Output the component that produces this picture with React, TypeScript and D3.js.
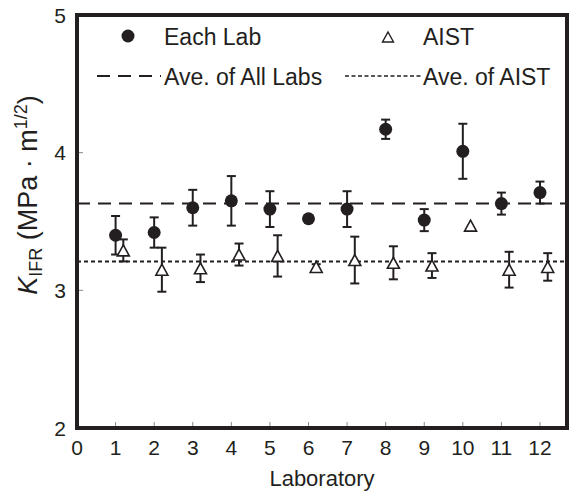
import React from 'react';
import * as d3 from 'd3';

// lab number, measured K_IFR for each lab and for the AIST reference runs
const labs = [1, 2, 3, 4, 5, 6, 7, 8, 9, 10, 11, 12];
const labMean = [3.40, 3.42, 3.60, 3.65, 3.59, 3.52, 3.59, 4.17, 3.51, 4.01, 3.63, 3.71];
const labErr = [0.14, 0.11, 0.13, 0.18, 0.13, 0, 0.13, 0.07, 0.08, 0.20, 0.08, 0.08];
const aistMean = [3.29, 3.15, 3.16, 3.26, 3.25, 3.17, 3.22, 3.20, 3.18, 3.47, 3.15, 3.17];
const aistErr = [0.08, 0.16, 0.10, 0.08, 0.15, 0.02, 0.17, 0.12, 0.09, 0, 0.13, 0.10];
const aveAllLabs = 3.63;
const aveAist = 3.21;
const xTicks = [0, 1, 2, 3, 4, 5, 6, 7, 8, 9, 10, 11, 12];
const yTicks = [2, 3, 4, 5];

const W = 571;
const H = 493;
const INK = '#231f20';
const FONT = '"Liberation Sans", Arial, Helvetica, sans-serif';

const App = () => {
  const x = d3.scaleLinear().domain([0, 12.7]).range([77, 567]);
  const y = d3.scaleLinear().domain([2, 5]).range([428, 15]);
  const aistShift = 0.2;

  const tri = (cx: number, cy: number, w = 12, h = 11) =>
    `M${cx},${cy - h / 2}L${cx + w / 2},${cy + h / 2}L${cx - w / 2},${cy + h / 2}Z`;

  const errBar = (cx: number, m: number, e: number, key: string) => {
    if (!e) return null;
    const cap = 4.5;
    return (
      <g key={key} stroke={INK} strokeWidth={2}>
        <line x1={cx} x2={cx} y1={y(m + e)} y2={y(m - e)} />
        <line x1={cx - cap} x2={cx + cap} y1={y(m + e)} y2={y(m + e)} />
        <line x1={cx - cap} x2={cx + cap} y1={y(m - e)} y2={y(m - e)} />
      </g>
    );
  };

  return (
    <svg width={W} height={H} style={{ position: 'absolute', left: 0, top: 0 }} fontFamily={FONT}>
      <rect width={W} height={H} fill="#fff" />

      {/* inner ticks */}
      <g stroke="#888" strokeWidth={1}>
        {xTicks.slice(1).map(t => (
          <line key={'xt' + t} x1={x(t)} x2={x(t)} y1={y(2)} y2={y(2) - 6} />
        ))}
        {yTicks.slice(1, -1).map(t => (
          <line key={'yt' + t} x1={x(0)} x2={x(0) + 6} y1={y(t)} y2={y(t)} />
        ))}
      </g>

      {/* tick labels */}
      <g fill={INK} fontSize={21}>
        {xTicks.map(t => (
          <text key={'xl' + t} x={x(t)} y={455} textAnchor="middle">{t}</text>
        ))}
        {yTicks.map(t => (
          <text key={'yl' + t} x={66} y={y(t)} dy="0.36em" textAnchor="end">{t}</text>
        ))}
      </g>

      {/* average lines */}
      <line x1={x(0)} x2={x(12.7)} y1={y(aveAllLabs)} y2={y(aveAllLabs)}
        stroke={INK} strokeWidth={2} strokeDasharray="13,8" />
      <line x1={x(0)} x2={x(12.7)} y1={y(aveAist)} y2={y(aveAist)}
        stroke={INK} strokeWidth={2} strokeDasharray="4,3" />

      {/* error bars */}
      {labs.map((l, i) => errBar(x(l), labMean[i], labErr[i], 'le' + l))}
      {labs.map((l, i) => errBar(x(l + aistShift), aistMean[i], aistErr[i], 'ae' + l))}

      {/* markers */}
      {labs.map((l, i) => (
        <circle key={'c' + l} cx={x(l)} cy={y(labMean[i])} r={6.5} fill={INK} />
      ))}
      {labs.map((l, i) => (
        <path key={'t' + l} d={tri(x(l + aistShift), y(aistMean[i]))}
          fill="#fff" stroke={INK} strokeWidth={1.6} />
      ))}

      {/* legend */}
      <g fill={INK} fontSize={23}>
        <circle cx={128} cy={36} r={6.5} fill={INK} />
        <text x={164} y={45}>Each Lab</text>
        <path d={tri(388, 37, 11, 10)} fill="#fff" stroke={INK} strokeWidth={1.4} />
        <text x={423} y={45}>AIST</text>
        <line x1={97} x2={161} y1={76} y2={76} stroke={INK} strokeWidth={2} strokeDasharray="13,8" />
        <text x={164} y={85}>Ave. of All Labs</text>
        <line x1={345} x2={422} y1={76} y2={76} stroke={INK} strokeWidth={1.5} strokeDasharray="4,2.5" />
        <text x={423} y={85}>Ave. of AIST</text>
      </g>

      {/* frame */}
      <rect x={x(0)} y={y(5)} width={x(12.7) - x(0)} height={y(2) - y(5)}
        fill="none" stroke={INK} strokeWidth={4} />

      {/* axis titles */}
      <text x={322} y={486} textAnchor="middle" fontSize={22} fill={INK}>Laboratory</text>
      <text transform="translate(37,195) rotate(-90)" textAnchor="middle" fontSize={27} fill={INK}>
        <tspan fontStyle="italic">K</tspan>
        <tspan fontSize={18} dy={5}>IFR</tspan>
        <tspan dy={-5}> (MPa · m</tspan>
        <tspan fontSize={18} dy={-10}>1/2</tspan>
        <tspan dy={10}>)</tspan>
      </text>
    </svg>
  );
};

export default App;
